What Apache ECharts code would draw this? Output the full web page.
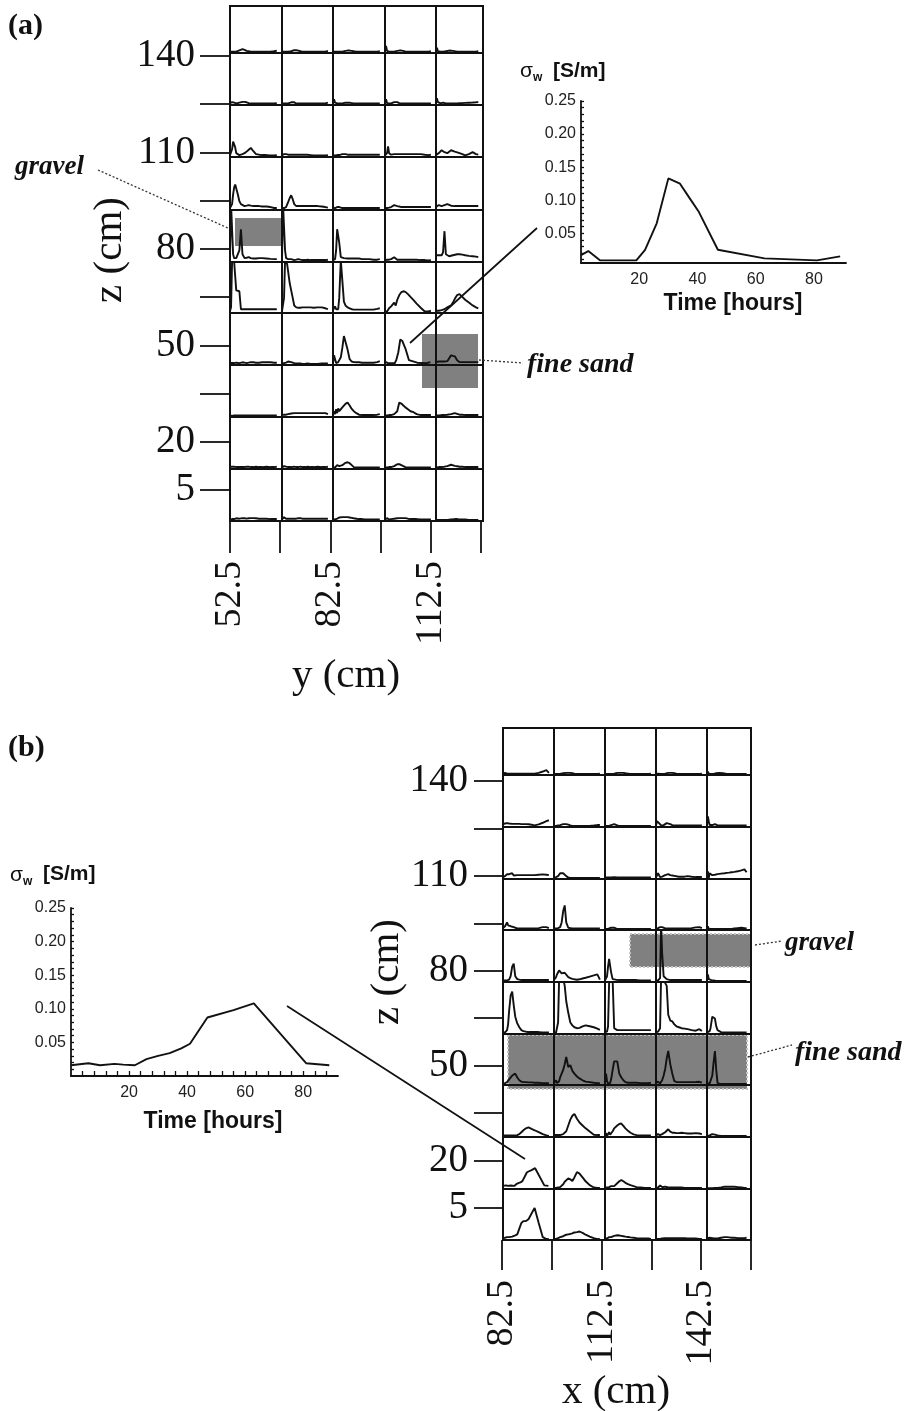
<!DOCTYPE html>
<html>
<head>
<meta charset="utf-8">
<script src="https://cdn.jsdelivr.net/npm/echarts@6/dist/echarts.min.js"></script>
<style>
  html, body { margin: 0; padding: 0; background: #fff; }
  #chart { width: 908px; height: 1411px; }
</style>
</head>
<body>
<div id="chart"></div>
<script>
// Sampling times (hours) shared by every small breakthrough curve
const HOURS = [0, 2, 4, 6, 8, 10, 12, 15, 18, 21, 24, 28, 32, 36, 40, 45, 50, 56, 62, 70, 78, 85, 90];

// Panel (a): fluid conductivity sigma_w [S/m]; one row per depth z, five columns along y
const A_Z140 = [
  [.008,.010,.008,.008,.008,.008,.008,.010,.015,.020,.022,.018,.012,.010,.008,.008,.008,.008,.008,.008,.008,.010,.014],
  [.008,.008,.008,.008,.008,.008,.008,.008,.010,.014,.016,.016,.014,.010,.008,.008,.008,.008,.008,.008,.008,.008,.012],
  [.008,.008,.008,.008,.008,.008,.008,.008,.008,.010,.012,.014,.014,.012,.010,.008,.008,.008,.008,.008,.008,.008,.010],
  [.008,.040,.012,.008,.008,.008,.008,.008,.008,.010,.012,.014,.014,.012,.008,.008,.008,.008,.008,.008,.008,.008,.010],
  [.008,.030,.010,.008,.008,.008,.008,.008,.008,.010,.012,.014,.014,.012,.008,.008,.008,.008,.008,.008,.008,.008,.010]
];
const A_Z125 = [
  [.010,.015,.015,.012,.012,.010,.008,.008,.012,.015,.016,.016,.014,.010,.008,.008,.008,.008,.008,.008,.008,.008,.010],
  [.008,.008,.008,.008,.008,.008,.008,.010,.014,.020,.014,.008,.008,.008,.008,.008,.008,.008,.008,.008,.008,.008,.012],
  [.008,.030,.012,.008,.008,.008,.008,.008,.008,.010,.012,.012,.012,.010,.008,.008,.008,.008,.008,.008,.008,.008,.008],
  [.008,.030,.010,.008,.008,.008,.008,.010,.015,.018,.015,.010,.008,.008,.008,.008,.008,.008,.008,.008,.008,.008,.008],
  [.010,.035,.015,.010,.015,.008,.012,.012,.010,.008,.008,.008,.008,.008,.008,.008,.009,.010,.011,.012,.013,.014,.015]
];
const A_Z110 = [
  [.010,.015,.040,.080,.090,.050,.020,.010,.010,.012,.015,.020,.028,.038,.047,.030,.015,.012,.010,.010,.008,.008,.010],
  [.010,.012,.015,.020,.015,.012,.012,.012,.012,.012,.012,.012,.012,.012,.012,.012,.012,.010,.008,.008,.008,.008,.010],
  [.008,.008,.008,.010,.010,.010,.010,.012,.015,.016,.015,.012,.012,.012,.012,.012,.012,.012,.012,.012,.012,.012,.012],
  [.008,.008,.020,.055,.020,.010,.012,.015,.015,.015,.015,.015,.015,.015,.015,.015,.015,.015,.015,.015,.012,.010,.012],
  [.010,.012,.015,.020,.025,.030,.035,.040,.025,.015,.020,.030,.035,.032,.028,.024,.020,.015,.008,.015,.025,.015,.012]
];
const A_Z95 = [
  [.010,.012,.030,.080,.115,.130,.125,.080,.045,.030,.022,.020,.022,.025,.022,.020,.020,.020,.018,.018,.015,.010,.010],
  [.008,.008,.010,.012,.015,.025,.040,.060,.075,.055,.030,.020,.020,.020,.020,.020,.020,.020,.020,.020,.018,.015,.012],
  [.008,.008,.010,.012,.015,.020,.015,.010,.010,.010,.010,.010,.010,.010,.010,.010,.010,.010,.010,.010,.010,.010,.010],
  [.008,.008,.010,.012,.012,.012,.015,.020,.025,.025,.020,.018,.015,.015,.015,.015,.015,.015,.015,.015,.015,.015,.015],
  [.015,.025,.015,.025,.015,.020,.020,.022,.025,.028,.030,.025,.022,.020,.020,.020,.020,.020,.020,.020,.020,.020,.020]
];
const A_Z80 = [
  [.030,.300,.300,.040,.020,.020,.020,.025,.060,.170,.040,.020,.022,.025,.020,.018,.018,.020,.020,.018,.016,.015,.015],
  [.010,.300,.300,.060,.020,.015,.015,.012,.015,.012,.010,.012,.015,.012,.010,.010,.012,.010,.010,.010,.010,.010,.012],
  [.010,.012,.015,.060,.170,.180,.100,.025,.020,.020,.018,.018,.018,.018,.018,.018,.018,.015,.015,.015,.012,.012,.015],
  [.008,.010,.012,.012,.012,.012,.015,.018,.025,.018,.012,.012,.012,.012,.012,.012,.012,.012,.012,.010,.010,.008,.010],
  [.035,.035,.035,.035,.035,.035,.035,.050,.160,.040,.030,.030,.032,.035,.038,.040,.040,.038,.035,.032,.030,.028,.025]
];
const A_Z65 = [
  [.010,.030,.270,.280,.270,.260,.120,.115,.115,.020,.020,.020,.020,.020,.020,.020,.020,.020,.020,.020,.020,.020,.020],
  [.010,.015,.080,.280,.280,.260,.220,.160,.120,.080,.040,.030,.028,.028,.030,.030,.030,.030,.028,.030,.030,.025,.020],
  [.015,.025,.035,.020,.015,.020,.080,.280,.280,.060,.040,.030,.025,.020,.018,.018,.018,.018,.018,.018,.018,.022,.025],
  [.008,.005,.008,.015,.025,.030,.035,.045,.055,.040,.070,.095,.110,.115,.112,.100,.085,.068,.050,.028,.008,.008,.012],
  [.012,.012,.012,.012,.015,.015,.015,.018,.020,.025,.030,.035,.040,.055,.075,.095,.100,.085,.070,.055,.040,.030,.025]
];
const A_Z50 = [
  [.010,.012,.010,.012,.010,.010,.012,.012,.010,.012,.014,.012,.010,.012,.015,.014,.012,.012,.014,.015,.014,.012,.012],
  [.008,.010,.010,.012,.012,.015,.018,.020,.015,.012,.010,.008,.008,.008,.006,.006,.008,.006,.006,.006,.008,.008,.008],
  [.010,.050,.030,.010,.012,.015,.020,.040,.090,.150,.160,.080,.030,.018,.015,.014,.014,.012,.012,.012,.012,.015,.020],
  null, // drawn from the enlarged series below
  [.015,.015,.018,.018,.018,.018,.018,.018,.018,.018,.020,.030,.050,.060,.045,.025,.015,.015,.015,.015,.015,.015,.015]
];
const A_Z35 = [
  [.008,.008,.006,.008,.008,.008,.008,.008,.008,.008,.008,.008,.008,.008,.008,.008,.008,.008,.008,.008,.008,.008,.008],
  [.010,.010,.012,.020,.012,.022,.015,.022,.018,.020,.020,.020,.020,.020,.020,.020,.020,.020,.020,.020,.020,.020,.015],
  [.010,.030,.015,.040,.020,.045,.030,.040,.050,.060,.068,.075,.060,.042,.030,.020,.012,.010,.010,.010,.010,.012,.015],
  [.008,.008,.008,.010,.010,.010,.010,.012,.015,.020,.030,.075,.070,.060,.050,.040,.030,.025,.015,.010,.010,.010,.010],
  [.008,.010,.008,.008,.008,.008,.010,.010,.010,.010,.012,.012,.015,.018,.020,.016,.012,.012,.010,.010,.010,.010,.010]
];
const A_Z20 = [
  [.012,.010,.012,.010,.012,.010,.010,.010,.010,.012,.010,.010,.012,.012,.010,.010,.012,.010,.010,.012,.010,.010,.012],
  [.008,.010,.015,.010,.012,.010,.010,.012,.010,.010,.012,.010,.010,.012,.010,.010,.012,.010,.010,.012,.010,.010,.012],
  [.008,.008,.008,.010,.020,.025,.015,.018,.020,.028,.032,.035,.030,.020,.010,.008,.008,.008,.008,.008,.008,.008,.008],
  [.008,.008,.008,.010,.010,.010,.010,.012,.015,.020,.025,.025,.020,.015,.010,.008,.008,.008,.008,.008,.008,.008,.008],
  [.008,.010,.008,.010,.010,.010,.010,.012,.012,.015,.015,.018,.022,.020,.016,.014,.012,.012,.010,.010,.010,.010,.010]
];
const A_Z5 = [
  [.008,.012,.010,.015,.010,.012,.014,.012,.012,.014,.015,.014,.012,.014,.015,.015,.014,.012,.012,.012,.010,.010,.010],
  [.008,.010,.020,.010,.012,.012,.012,.012,.012,.012,.012,.012,.014,.014,.012,.012,.012,.012,.012,.012,.012,.012,.012],
  [.008,.008,.008,.008,.012,.015,.018,.020,.020,.020,.020,.020,.018,.016,.014,.012,.010,.010,.008,.008,.008,.008,.008],
  [.006,.008,.015,.008,.008,.010,.010,.010,.012,.012,.014,.015,.015,.015,.015,.012,.010,.010,.010,.008,.008,.008,.008],
  [.005,.005,.005,.005,.005,.005,.005,.005,.006,.006,.006,.006,.008,.008,.010,.010,.008,.008,.008,.006,.006,.006,.006]
];

// Panel (b): one row per depth z, five columns along x
const B_Z140 = [
  [.008,.010,.012,.010,.008,.008,.008,.008,.008,.008,.008,.008,.008,.008,.008,.008,.008,.008,.008,.012,.020,.028,.012],
  [.006,.006,.006,.006,.006,.006,.006,.008,.010,.012,.012,.012,.012,.010,.008,.006,.006,.006,.006,.006,.006,.006,.008],
  [.006,.006,.006,.006,.006,.006,.006,.006,.008,.010,.012,.012,.012,.012,.010,.008,.006,.006,.006,.006,.006,.006,.008],
  [.006,.016,.008,.006,.006,.006,.006,.006,.008,.010,.012,.012,.012,.010,.008,.006,.006,.006,.006,.006,.006,.006,.008],
  [.006,.020,.008,.006,.006,.006,.006,.006,.008,.010,.012,.012,.012,.010,.008,.006,.006,.006,.006,.006,.006,.006,.006]
];
const B_Z125 = [
  [.015,.020,.018,.022,.020,.020,.018,.018,.016,.016,.016,.016,.016,.015,.015,.015,.014,.012,.008,.014,.022,.030,.035],
  [.006,.006,.006,.006,.008,.010,.010,.012,.015,.015,.015,.012,.008,.006,.006,.006,.006,.006,.006,.006,.008,.010,.010],
  [.006,.006,.006,.006,.006,.008,.010,.012,.015,.012,.008,.006,.006,.006,.006,.006,.006,.006,.006,.006,.006,.006,.006],
  [.008,.030,.040,.020,.010,.008,.008,.010,.015,.020,.020,.015,.010,.008,.008,.008,.008,.008,.008,.008,.008,.008,.008],
  [.010,.055,.030,.010,.008,.015,.010,.015,.015,.010,.008,.008,.008,.008,.008,.008,.008,.008,.008,.008,.008,.008,.008]
];
const B_Z110 = [
  [.010,.015,.015,.020,.025,.035,.025,.020,.030,.018,.018,.020,.020,.020,.020,.020,.020,.020,.020,.022,.024,.022,.020],
  [.008,.008,.010,.012,.015,.020,.030,.040,.030,.020,.015,.008,.006,.006,.006,.006,.006,.006,.006,.006,.006,.006,.006],
  [.008,.012,.008,.015,.008,.015,.008,.015,.010,.008,.008,.008,.008,.008,.008,.008,.008,.008,.008,.008,.008,.008,.008],
  [.008,.012,.030,.020,.010,.010,.012,.015,.020,.025,.025,.020,.018,.016,.014,.012,.012,.012,.015,.012,.010,.010,.010],
  [.010,.040,.005,.030,.020,.022,.020,.024,.022,.025,.025,.027,.028,.030,.030,.032,.033,.035,.037,.040,.045,.050,.035]
];
const B_Z95 = [
  [.010,.012,.020,.030,.040,.025,.015,.020,.012,.015,.010,.008,.008,.008,.008,.008,.008,.008,.008,.010,.015,.015,.010],
  [.008,.008,.008,.008,.010,.012,.015,.040,.100,.130,.040,.012,.010,.008,.008,.008,.008,.008,.008,.008,.008,.008,.008],
  [.005,.005,.005,.006,.008,.010,.012,.015,.012,.008,.005,.005,.005,.005,.005,.005,.005,.005,.005,.005,.005,.005,.005],
  [.006,.008,.010,.012,.015,.010,.015,.012,.008,.008,.008,.008,.008,.008,.008,.008,.008,.008,.008,.010,.014,.015,.010],
  [.006,.020,.006,.005,.005,.005,.005,.005,.005,.005,.005,.005,.005,.005,.005,.005,.005,.006,.008,.010,.012,.010,.008]
];
const B_Z80 = [
  [.008,.008,.008,.008,.008,.010,.012,.030,.080,.095,.030,.015,.012,.010,.010,.010,.010,.010,.010,.010,.010,.010,.010],
  [.010,.015,.025,.040,.050,.060,.050,.045,.042,.048,.040,.025,.020,.016,.014,.012,.014,.018,.022,.028,.034,.040,.012],
  [.008,.010,.030,.080,.120,.110,.050,.015,.012,.012,.010,.010,.010,.010,.010,.010,.010,.010,.010,.008,.008,.008,.008],
  [.008,.008,.008,.010,.020,.300,.150,.030,.020,.015,.012,.010,.010,.010,.010,.010,.010,.010,.010,.010,.010,.010,.010],
  [.008,.040,.015,.010,.018,.010,.015,.008,.005,.005,.005,.005,.005,.005,.005,.005,.005,.005,.005,.005,.005,.005,.005]
];
const B_Z65 = [
  [.008,.008,.008,.010,.020,.050,.120,.200,.220,.150,.090,.055,.035,.020,.015,.012,.010,.010,.010,.010,.008,.008,.008],
  [.008,.008,.008,.010,.060,.280,.300,.300,.290,.250,.170,.110,.060,.045,.035,.030,.032,.040,.045,.040,.035,.028,.022],
  [.010,.010,.012,.040,.260,.300,.300,.280,.030,.022,.020,.020,.020,.020,.020,.020,.020,.020,.020,.020,.020,.020,.020],
  [.008,.010,.012,.015,.030,.300,.300,.280,.280,.250,.100,.070,.065,.050,.040,.035,.030,.028,.025,.020,.017,.025,.015],
  [.008,.008,.010,.015,.030,.060,.090,.100,.080,.040,.020,.012,.010,.008,.008,.008,.008,.008,.008,.008,.008,.008,.008]
];
const B_Z50 = [
  [.006,.008,.010,.012,.015,.020,.030,.040,.050,.058,.060,.040,.025,.018,.015,.015,.014,.014,.012,.012,.010,.010,.010],
  [.008,.015,.025,.010,.008,.020,.040,.060,.080,.110,.148,.095,.105,.075,.060,.045,.035,.025,.018,.015,.012,.010,.010],
  [.010,.060,.020,.008,.008,.010,.030,.080,.125,.130,.125,.060,.040,.025,.015,.012,.012,.012,.012,.010,.010,.010,.012],
  [.010,.015,.018,.012,.008,.015,.025,.050,.085,.140,.180,.110,.060,.020,.016,.015,.015,.015,.015,.015,.016,.017,.012],
  [.008,.008,.008,.008,.010,.015,.050,.120,.180,.080,.010,.006,.005,.005,.005,.005,.005,.005,.005,.005,.005,.005,.005]
];
const B_Z35 = [
  [.008,.008,.008,.008,.008,.008,.008,.008,.008,.008,.008,.010,.015,.025,.035,.045,.050,.042,.035,.025,.015,.008,.005],
  [.010,.010,.010,.010,.010,.010,.010,.012,.015,.018,.030,.060,.090,.110,.120,.095,.075,.060,.045,.028,.012,.010,.010],
  [.008,.020,.005,.015,.025,.012,.020,.030,.045,.055,.060,.068,.070,.058,.045,.032,.022,.014,.010,.008,.008,.008,.008],
  [.008,.012,.015,.008,.010,.012,.015,.020,.025,.030,.040,.028,.022,.022,.020,.020,.022,.020,.018,.018,.020,.018,.015],
  [.005,.005,.006,.008,.010,.012,.015,.015,.012,.010,.008,.006,.005,.005,.005,.005,.005,.005,.005,.005,.005,.005,.005]
];
const B_Z20 = [
  null, // drawn from the enlarged series below
  [.006,.006,.006,.006,.008,.008,.010,.012,.025,.038,.045,.055,.050,.042,.060,.088,.080,.060,.040,.020,.008,.005,.005],
  [.006,.006,.008,.010,.010,.012,.015,.020,.015,.020,.030,.040,.046,.040,.032,.025,.020,.015,.010,.008,.006,.006,.006],
  [.005,.006,.008,.012,.018,.020,.010,.015,.012,.008,.008,.008,.008,.008,.008,.008,.008,.006,.006,.006,.006,.005,.005],
  [.004,.004,.004,.004,.004,.004,.004,.004,.005,.006,.006,.006,.008,.010,.012,.012,.012,.012,.012,.010,.008,.006,.005]
];
const B_Z5 = [
  [.010,.015,.012,.018,.015,.018,.015,.020,.018,.022,.025,.030,.060,.090,.100,.100,.110,.140,.170,.090,.015,.005,.004],
  [.006,.008,.006,.008,.010,.012,.015,.018,.020,.025,.028,.030,.032,.035,.040,.042,.045,.038,.028,.018,.010,.005,.004],
  [.008,.010,.008,.012,.015,.018,.015,.020,.022,.024,.025,.024,.022,.020,.018,.016,.014,.012,.010,.008,.008,.008,.006],
  [.005,.005,.005,.006,.006,.006,.008,.008,.010,.010,.010,.010,.010,.010,.010,.010,.010,.010,.008,.008,.008,.006,.006],
  [.008,.010,.006,.012,.008,.010,.010,.010,.008,.008,.008,.010,.012,.014,.015,.015,.014,.012,.012,.010,.010,.010,.012]
];

// Enlarged curves: (a) z = 50 cm, y = 97.5 cm ; (b) z = 20 cm, x = 82.5 cm
const INSET_A_HOURS = [0, 2.5, 6.5, 19, 22, 26, 30, 34, 37, 40.5, 47, 63, 81, 89];
const INSET_A_SIGMA = [0.017, 0.023, 0.009, 0.009, 0.025, 0.065, 0.133, 0.125, 0.105, 0.082, 0.025, 0.012, 0.009, 0.015];
const INSET_B_HOURS = [0, 6, 10, 15, 18, 22, 26, 30, 34, 38, 41, 47, 56, 63, 81, 89];
const INSET_B_SIGMA = [0.016, 0.019, 0.016, 0.018, 0.017, 0.016, 0.025, 0.030, 0.034, 0.041, 0.048, 0.087, 0.098, 0.108, 0.019, 0.016];

// Axis ticks and labels
const Z_TICKS = [5, 20, 35, 50, 65, 80, 95, 110, 125, 140];
const Z_LABELS = [5, 20, 50, 80, 110, 140];
const Y_TICKS_A = [52.5, 67.5, 82.5, 97.5, 112.5, 127.5];
const Y_LABELS_A = [52.5, 82.5, 112.5];
const X_TICKS_B = [82.5, 97.5, 112.5, 127.5, 142.5, 157.5];
const X_LABELS_B = [82.5, 112.5, 142.5];
const SIGMA_TICKS = [0.01,0.02,0.03,0.04,0.05,0.06,0.07,0.08,0.09,0.10,0.11,0.12,0.13,0.14,0.15,0.16,0.17,0.18,0.19,0.20,0.21,0.22,0.23,0.24,0.25];
const SIGMA_LABELS = [0.05, 0.10, 0.15, 0.20, 0.25];
const TIME_LABELS = [20, 40, 60, 80];
const TIME_MINOR_B = [4,8,12,16,20,24,28,32,36,40,44,48,52,56,60,64,68,72,76,80,84,88];

// ---- layout (pixels) ----
const A_COL_EDGES = [230, 282, 333, 385, 436, 483];
const A_ROW_EDGES = [6, 53, 105, 157, 210, 262, 313, 365, 417, 469, 521];
const B_COL_EDGES = [503, 554, 605, 656, 707, 751];
const B_ROW_EDGES = [728, 775, 827, 879, 930, 982, 1034, 1085, 1137, 1189, 1240];
const CELL_MAX_HOURS = 100;
const CELL_MAX_SIGMA = 0.27;

const SERIF = '"Liberation Serif", "DejaVu Serif", serif';
const SANS = '"Liberation Sans", Arial, sans-serif';
const INK = '#111';

const grids = [], xAxes = [], yAxes = [], series = [];

function pairs(ts, vs) { return vs.map((v, i) => [ts[i], v]); }

function addCell(left, top, width, height, data) {
  const i = grids.length;
  grids.push({ left, top, width, height, show: true, borderColor: INK, borderWidth: 2,
               backgroundColor: 'transparent', z: 3 });
  xAxes.push({ gridIndex: i, type: 'value', min: 0, max: CELL_MAX_HOURS, show: false });
  yAxes.push({ gridIndex: i, type: 'value', min: 0, max: CELL_MAX_SIGMA, show: false });
  series.push({ type: 'line', xAxisIndex: i, yAxisIndex: i, data, symbol: 'none', clip: true,
                silent: true, z: 4, lineStyle: { color: INK, width: 1.9 } });
}

function addPanel(rows, colEdges, rowEdges, insetHours, insetSigma) {
  rows.forEach((row, r) => {
    row.forEach((vals, c) => {
      const data = vals === null ? pairs(insetHours, insetSigma) : pairs(HOURS, vals);
      addCell(colEdges[c], rowEdges[r], colEdges[c + 1] - colEdges[c], rowEdges[r + 1] - rowEdges[r], data);
    });
  });
}

// depth axis (z, cm) drawn on a thin grid to the left of a panel
function addDepthAxis(left, top, height, tickLen) {
  const i = grids.length;
  grids.push({ left, top, width: 10, height, show: false });
  xAxes.push({ gridIndex: i, type: 'value', min: 0, max: 1, show: false });
  yAxes.push({ gridIndex: i, type: 'value', min: 5, max: 140, position: 'left',
    axisLine: { show: false }, splitLine: { show: false },
    axisTick: { show: true, inside: false, length: tickLen, customValues: Z_TICKS, lineStyle: { color: INK, width: 1.8 } },
    axisLabel: { customValues: Z_LABELS, margin: 35, fontSize: 39, fontFamily: SERIF, color: INK } });
}

// horizontal position axis (y or x, cm) under a panel
function addPositionAxis(left, width, bottomY, min, max, ticks, labels, tickLen) {
  const i = grids.length;
  grids.push({ left, top: bottomY - 10, width, height: 10, show: false });
  yAxes.push({ gridIndex: i, type: 'value', min: 0, max: 1, show: false });
  xAxes.push({ gridIndex: i, type: 'value', min, max, position: 'bottom',
    axisLine: { show: false }, splitLine: { show: false },
    axisTick: { show: true, inside: false, length: tickLen, customValues: ticks, lineStyle: { color: INK, width: 1.8 } },
    axisLabel: { customValues: labels, rotate: 90, margin: 40, fontSize: 38, fontFamily: SERIF, color: INK } });
}

// enlarged breakthrough curve
function addInset(left, top, width, height, tMax, sMin, hours, sigma, timeTicks) {
  const i = grids.length;
  grids.push({ left, top, width, height, show: false });
  xAxes.push({ gridIndex: i, type: 'value', min: 0, max: tMax,
    axisLine: { show: true, onZero: false, lineStyle: { color: INK, width: 1.8 } },
    splitLine: { show: false },
    axisTick: timeTicks ? { show: true, inside: true, length: 5, customValues: timeTicks, lineStyle: { color: INK, width: 1.3 } } : { show: false },
    axisLabel: { customValues: TIME_LABELS, margin: 9, fontSize: 16, fontFamily: SANS, color: '#222' } });
  yAxes.push({ gridIndex: i, type: 'value', min: sMin, max: 0.25,
    axisLine: { show: true, onZero: false, lineStyle: { color: INK, width: 1.8 } },
    splitLine: { show: false },
    axisTick: { show: true, inside: true, length: 3, customValues: SIGMA_TICKS, lineStyle: { color: INK, width: 1.3 } },
    axisLabel: { customValues: SIGMA_LABELS, margin: 5, fontSize: 16, fontFamily: SANS, color: '#222',
                 formatter: v => v.toFixed(2) } });
  series.push({ type: 'line', xAxisIndex: i, yAxisIndex: i, data: pairs(hours, sigma), symbol: 'none',
                silent: true, z: 4, lineStyle: { color: INK, width: 1.9 } });
}

addPanel([A_Z140, A_Z125, A_Z110, A_Z95, A_Z80, A_Z65, A_Z50, A_Z35, A_Z20, A_Z5],
         A_COL_EDGES, A_ROW_EDGES, INSET_A_HOURS, INSET_A_SIGMA);
addPanel([B_Z140, B_Z125, B_Z110, B_Z95, B_Z80, B_Z65, B_Z50, B_Z35, B_Z20, B_Z5],
         B_COL_EDGES, B_ROW_EDGES, INSET_B_HOURS, INSET_B_SIGMA);

addDepthAxis(230, 56, 434, 30);
addDepthAxis(503, 781, 427, 29);
addPositionAxis(230, 251, 521, 52.5, 127.5, Y_TICKS_A, Y_LABELS_A, 32);
addPositionAxis(502, 249, 1240, 82.5, 157.5, X_TICKS_B, X_LABELS_B, 30);

addInset(581, 101, 265, 162, 91, 0.005, INSET_A_HOURS, INSET_A_SIGMA, null);
addInset(71, 908, 267, 168, 92, 0, INSET_B_HOURS, INSET_B_SIGMA, TIME_MINOR_B);

// ---- annotations ----
function txt(x, y, text, opts) {
  const o = Object.assign({ size: 20, family: SERIF, weight: 'normal', style: 'normal', align: 'left', rot: 0 }, opts || {});
  return { type: 'text', x, y, rotation: o.rot, z: 10, silent: true,
    style: { text, fill: INK, fontSize: o.size, fontFamily: o.family, fontWeight: o.weight, fontStyle: o.style,
             align: o.align, textAlign: o.align, verticalAlign: 'middle', textVerticalAlign: 'middle' } };
}
function seg(x1, y1, x2, y2, dashed) {
  return { type: 'line', z: 10, silent: true, shape: { x1, y1, x2, y2 },
    style: { stroke: dashed ? '#333' : INK, lineWidth: dashed ? 1.3 : 1.7, lineDash: dashed ? [2, 2] : null } };
}
function shade(x, y, w, h, outlined) {
  return { type: 'rect', z: 1, silent: true, shape: { x, y, width: w, height: h },
    style: { fill: '#808080', stroke: outlined ? '#c4c4c4' : null, lineWidth: outlined ? 2 : 0, lineDash: outlined ? [2, 2] : null } };
}

const graphics = [
  txt(8, 26, '(a)', { size: 30, weight: 'bold' }),
  txt(8, 748, '(b)', { size: 30, weight: 'bold' }),
  txt(110, 250, 'z (cm)', { size: 41, align: 'center', rot: Math.PI / 2 }),
  txt(346, 676, 'y (cm)', { size: 41, align: 'center' }),
  txt(387, 972, 'z (cm)', { size: 41, align: 'center', rot: Math.PI / 2 }),
  txt(616, 1392, 'x (cm)', { size: 41, align: 'center' }),

  shade(235, 218, 47, 28, false),
  shade(422, 334, 56, 54, false),
  shade(630, 934, 121, 33, true),
  shade(508, 1035, 239, 54, true),

  txt(15, 167, 'gravel', { size: 27, weight: 'bold', style: 'italic' }),
  seg(98, 170, 228, 228, true),
  txt(527, 365, 'fine sand', { size: 28, weight: 'bold', style: 'italic' }),
  seg(479, 360, 523, 363, true),
  txt(785, 943, 'gravel', { size: 27, weight: 'bold', style: 'italic' }),
  seg(755, 945, 782, 941, true),
  txt(795, 1053, 'fine sand', { size: 28, weight: 'bold', style: 'italic' }),
  seg(748, 1057, 792, 1045, true),

  seg(410, 343, 537, 228, false),
  seg(287, 1006, 525, 1159, false),

  txt(520, 71, 'σ', { size: 21, family: SANS }),
  txt(533, 78, 'w', { size: 12, family: SANS, weight: 'bold' }),
  txt(553, 71, '[S/m]', { size: 21, family: SANS, weight: 'bold' }),
  txt(733, 304, 'Time [hours]', { size: 23, family: SANS, weight: 'bold', align: 'center' }),

  txt(10, 875, 'σ', { size: 21, family: SANS }),
  txt(23, 882, 'w', { size: 12, family: SANS, weight: 'bold' }),
  txt(43, 874, '[S/m]', { size: 21, family: SANS, weight: 'bold' }),
  txt(213, 1122, 'Time [hours]', { size: 23, family: SANS, weight: 'bold', align: 'center' })
];

const chart = echarts.init(document.getElementById('chart'), null, { renderer: 'canvas' });
chart.setOption({
  animation: false,
  backgroundColor: '#ffffff',
  grid: grids,
  xAxis: xAxes,
  yAxis: yAxes,
  series: series,
  graphic: { elements: graphics }
});
</script>
</body>
</html>
